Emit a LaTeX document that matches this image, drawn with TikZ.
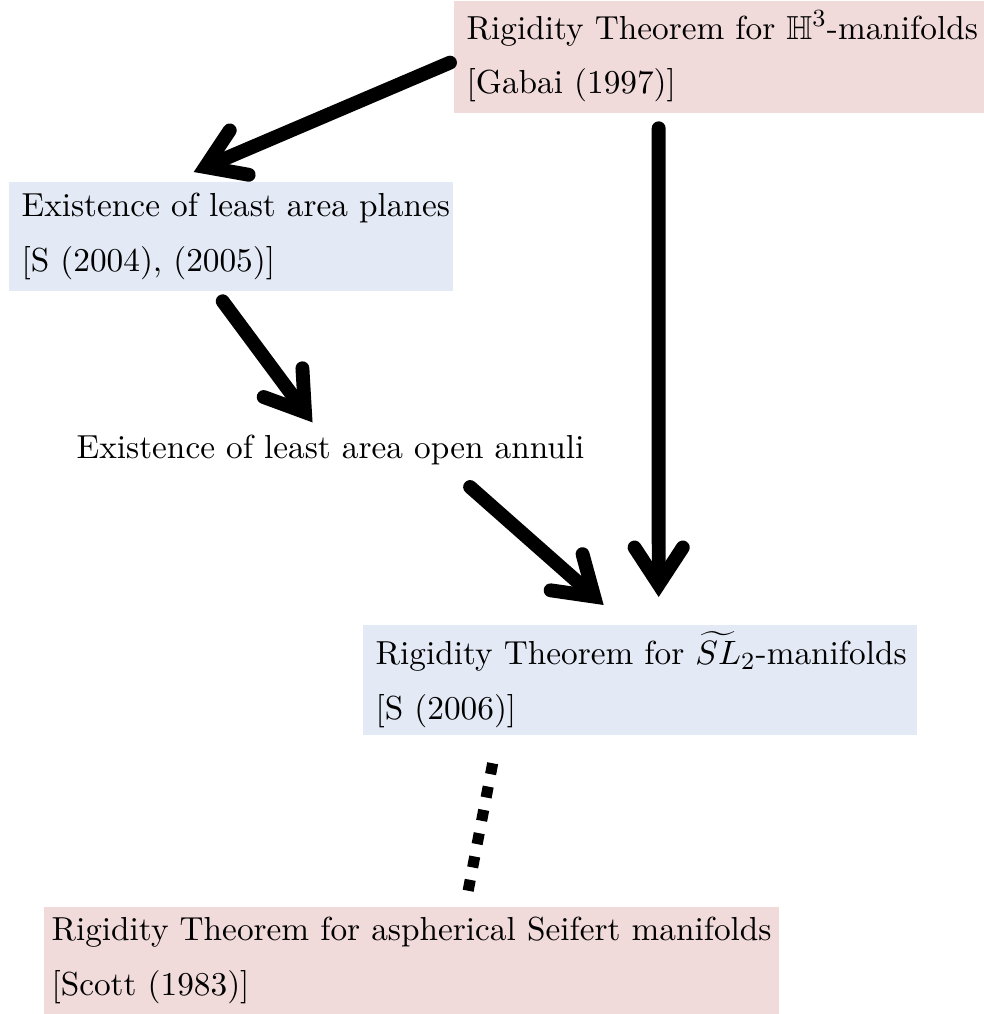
\documentclass[tikz,border=0pt]{standalone}
\usepackage{amsmath,amssymb}
\usetikzlibrary{arrows.meta,calc}
\definecolor{thmpink}{RGB}{241,218,218}
\definecolor{thmblue}{RGB}{228,234,245}

\begin{document}
\begin{tikzpicture}[line cap=round,line join=round,x=0.0114cm,y=-0.0114cm,
		thmbox/.style={anchor=north west,align=left,inner xsep=0.148cm,inner ysep=0pt,
			font=\fontsize{10.8}{17.8}\selectfont},
		bigarrow/.style={line width=4.5pt,-{Straight Barb[length=0.42cm,width=0.55cm,line cap=round,line join=miter]}},
		dotted link/.style={line width=3.6pt,line cap=butt,dash pattern=on 3.6pt off 4.1pt}]
	\useasboundingbox (0,0) rectangle (983,1014);
	% results
	\node[thmbox,fill=thmpink,text width=5.746cm,minimum height=1.277cm] (h3) at (453,0)
		{\mbox{Rigidity Theorem for $\mathbb{H}^3$-manifolds}\\ {[Gabai (1997)]}};
	\node[thmbox,fill=thmblue,text width=4.766cm,minimum height=1.243cm] (planes) at (8,181)
		{\mbox{Existence of least area planes}\\ {[S (2004), (2005)]}};
	\node[anchor=west,inner sep=0pt,font=\fontsize{10.8}{17.8}\selectfont] (annuli) at (76,450)
		{Existence of least area open annuli};
	\node[thmbox,fill=thmblue,text width=6.02cm,minimum height=1.254cm] (sl2) at (362,624)
		{\mbox{Rigidity Theorem for $\widetilde{SL}_2$-manifolds}\\ {[S (2006)]}};
	\node[thmbox,fill=thmpink,inner xsep=0.09cm,text width=8.2cm,minimum height=1.23cm] (seifert) at (43,906)
		{\mbox{Rigidity Theorem for aspherical Seifert manifolds}\\ {[Scott (1983)]}};
	% implications
	\draw[bigarrow] ($(h3.west)+(-3,6)$) -- ($(planes.north)+(-37,-9)$);
	\draw[bigarrow] ($(planes.south)+(-8,10)$) -- ($(annuli.north)+(-18,-12)$);
	\draw[bigarrow] ($(annuli.east)+(-115,37)$) -- ($(sl2.north)+(-36,-19)$);
	\draw[bigarrow] ($(h3.south)+(-60,15)$) -- ($(sl2.north)+(19,-27)$);
	\draw[dotted link] ($(sl2.south)+(-147,28)$) -- ($(seifert.north)+(56.5,-13)$);
\end{tikzpicture}
\end{document}
